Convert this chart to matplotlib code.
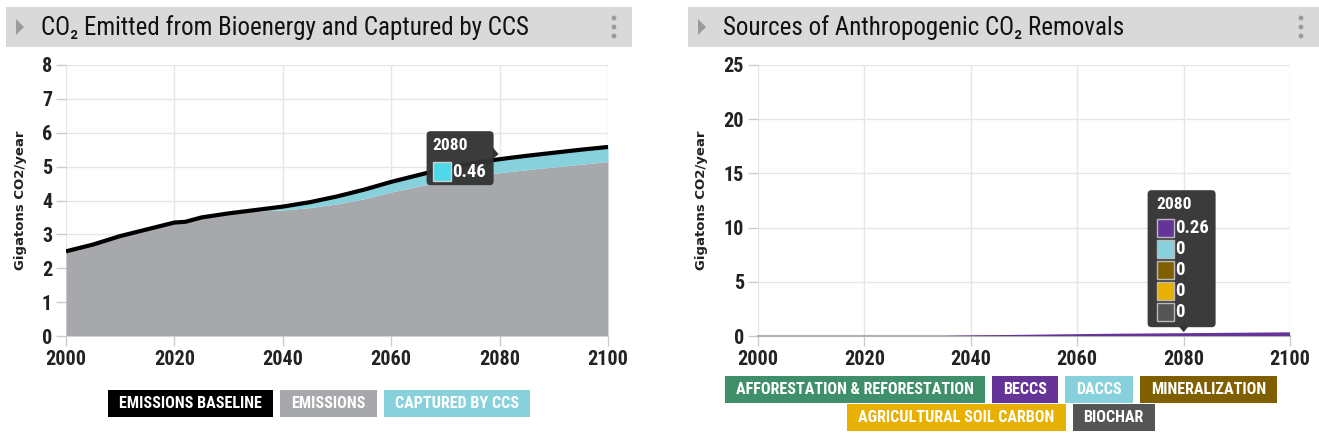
import matplotlib
matplotlib.use("Agg")
import matplotlib.pyplot as plt
from matplotlib import font_manager as fm
from matplotlib.patches import Rectangle, FancyBboxPatch, Polygon, Circle
import numpy as np

W, H = 1319, 437

# ---- data ----
years = [2000, 2005, 2010, 2015, 2020, 2022, 2025, 2030, 2035, 2040, 2045, 2050,
         2055, 2060, 2065, 2070, 2075, 2080, 2085, 2090, 2095, 2100]
baseline = [2.50, 2.70, 2.95, 3.15, 3.35, 3.37, 3.50, 3.62, 3.72, 3.82, 3.95, 4.12,
            4.32, 4.55, 4.75, 4.95, 5.10, 5.22, 5.32, 5.41, 5.50, 5.58]
emissions = [2.50, 2.70, 2.95, 3.15, 3.35, 3.37, 3.50, 3.62, 3.69, 3.72, 3.79, 3.90,
             4.05, 4.25, 4.42, 4.58, 4.71, 4.82, 4.91, 4.99, 5.07, 5.15]
captured_ccs = [0, 0, 0, 0, 0, 0, 0, 0, 0.03, 0.10, 0.16, 0.22,
                0.27, 0.31, 0.34, 0.38, 0.41, 0.46, 0.47, 0.48, 0.49, 0.50]

afforestation = [0] * len(years)
beccs = [0, 0, 0, 0, 0, 0, 0, 0, 0.0, 0.05, 0.08, 0.11,
         0.14, 0.17, 0.20, 0.22, 0.24, 0.26, 0.28, 0.30, 0.32, 0.34]
daccs = [0] * len(years)
mineralization = [0] * len(years)
soil_carbon = [0] * len(years)
biochar = [0] * len(years)

left_legend = ["EMISSIONS BASELINE", "EMISSIONS", "CAPTURED BY CCS"]
right_legend_row1 = ["AFFORESTATION & REFORESTATION", "BECCS", "DACCS", "MINERALIZATION"]
right_legend_row2 = ["AGRICULTURAL SOIL CARBON", "BIOCHAR"]

C_GRAY = "#a7a8ab"
C_CCS = "#86d1dc"
C_GREEN = "#3f8f6a"
C_PURPLE = "#663399"
C_BROWN = "#7f5f00"
C_GOLD = "#e8b000"
C_BIOCHAR = "#555555"


def pick_font(cands):
    for c in cands:
        try:
            fm.findfont(fm.FontProperties(family=c), fallback_to_default=False)
            return c
        except ValueError:
            continue
    return "DejaVu Sans"


COND = pick_font(["Roboto Condensed", "Liberation Sans Narrow", "Roboto"])
FAM = [COND, "DejaVu Sans"]

fig = plt.figure(figsize=(W / 100, H / 100), dpi=100)
fig.patch.set_facecolor("white")


def style_axes(ax, ymax, ystep):
    ax.set_xlim(2000, 2100)
    ax.set_ylim(0, ymax)
    ax.set_xticks(range(2000, 2101, 20))
    ax.set_yticks(np.arange(0, ymax + 0.1, ystep))
    ax.grid(True, color="#e6e6e6", lw=1)
    ax.set_axisbelow(True)
    for s in ax.spines.values():
        s.set_visible(False)
    ax.tick_params(color="#cccccc", length=7, width=1, pad=3, labelcolor="#222222")
    for lbl in ax.get_xticklabels() + ax.get_yticklabels():
        lbl.set_fontfamily(FAM)
        lbl.set_fontweight("bold")
        lbl.set_fontsize(14.5)
    ax.set_ylabel("Gigatons CO2/year", fontsize=9.5, fontweight="bold",
                  color="#222222", labelpad=11)


# left chart
ax1 = fig.add_axes([66 / W, 1 - 336 / H, 542 / W, 271 / H])
style_axes(ax1, 8, 1)
ax1.fill_between(years, 0, emissions, color=C_GRAY, lw=0, zorder=2)
ax1.fill_between(years, emissions, np.add(emissions, captured_ccs), color=C_CCS, lw=0, zorder=2)
ax1.plot(years, baseline, color="black", lw=3, zorder=3, solid_capstyle="butt")

# right chart
ax2 = fig.add_axes([758 / W, 1 - 336 / H, 532 / W, 271 / H])
style_axes(ax2, 25, 5)
ax2.spines["bottom"].set_visible(True)
ax2.spines["bottom"].set_color("#b0b0b0")
ax2.spines["bottom"].set_linewidth(1.5)
ax2.stackplot(years, afforestation, beccs, daccs, mineralization, soil_carbon, biochar,
              colors=[C_GREEN, C_PURPLE, C_CCS, C_BROWN, C_GOLD, C_BIOCHAR], lw=0, zorder=3)

# overlay in image pixel coordinates (y down)
ov = fig.add_axes([0, 0, 1, 1], zorder=10)
ov.set_xlim(0, W)
ov.set_ylim(H, 0)
ov.axis("off")
ov.patch.set_visible(False)

renderer = fig.canvas.get_renderer()


def header(x0, x1, title):
    ov.add_patch(Rectangle((x0, 7), x1 - x0, 40, color="#d9d9d9", lw=0))
    ov.add_patch(Polygon([(x0 + 10, 19), (x0 + 18, 27), (x0 + 10, 35)], color="#9a9a9a", lw=0))
    for yy in (18, 27, 36):
        ov.add_patch(Circle((x1 - 18, yy), 2.4, color="#9a9a9a", lw=0))
    ov.text(x0 + 35, 28, title, fontsize=18, family=FAM, color="#111111",
            va="center", ha="left")


header(6, 632, "CO\u2082 Emitted from Bioenergy and Captured by CCS")
header(688, 1319, "Sources of Anthropogenic CO\u2082 Removals")


def legend_row(labels, colors, cx, ytop, h=27, pad=11, gap=7, size=11.6):
    texts = []
    widths = []
    for lab in labels:
        t = ov.text(0, ytop + h / 2 + 0.5, lab, fontsize=size, family=FAM, fontweight="bold",
                    color="white", ha="center", va="center", zorder=5)
        bb = t.get_window_extent(renderer)
        texts.append(t)
        widths.append(bb.width + 2 * pad)
    total = sum(widths) + gap * (len(widths) - 1)
    x = cx - total / 2
    for t, w, c in zip(texts, widths, colors):
        ov.add_patch(Rectangle((x, ytop), w, h, color=c, lw=0, zorder=4))
        t.set_x(x + w / 2)
        x += w + gap


legend_row(left_legend, ["black", C_GRAY, C_CCS], 319, 390)
legend_row(right_legend_row1, [C_GREEN, C_PURPLE, C_CCS, C_BROWN], 1001, 376)
legend_row(right_legend_row2, [C_GOLD, C_BIOCHAR], 1001, 404)


def to_img(ax, x, y):
    d = ax.transData.transform((x, y))
    return ov.transData.inverted().transform(d)


TIP = "#333333"

# left tooltip
idx = years.index(2080)
axp, ayp = to_img(ax1, 2080, baseline[idx])
bl, br, bt, bb_ = axp - 73, axp - 6, ayp - 28, ayp + 26
ov.add_patch(FancyBboxPatch((bl, bt), br - bl, bb_ - bt,
                            boxstyle="round,pad=0,rounding_size=4", color=TIP, lw=0, alpha=0.96))
ov.add_patch(Polygon([(br - 1, ayp - 12), (br + 5, ayp - 5), (br - 1, ayp)], color=TIP, lw=0))
ov.text(bl + 6, bt + 14, "2080", fontsize=12.5, family=FAM, fontweight="bold", color="white",
        va="center", ha="left")
ov.add_patch(Rectangle((bl + 6, bt + 31), 18, 19, facecolor="#4dd9ea", edgecolor="#d0d0d0", lw=1))
ov.text(bl + 26, bt + 40.5, f"{captured_ccs[idx]:.2f}", fontsize=13.5, family=FAM,
        fontweight="bold", color="white", va="center", ha="left")

# right tooltip
axp, ayp = to_img(ax2, 2080, beccs[idx])
bl, br, bt, bb_ = axp - 36, axp + 32, ayp - 143, ayp - 6
ov.add_patch(FancyBboxPatch((bl, bt), br - bl, bb_ - bt,
                            boxstyle="round,pad=0,rounding_size=4", color=TIP, lw=0, alpha=0.96))
ov.add_patch(Polygon([(axp - 5, bb_ - 1), (axp, bb_ + 5), (axp + 5, bb_ - 1)], color=TIP, lw=0))
ov.text(bl + 9, bt + 14, "2080", fontsize=12.5, family=FAM, fontweight="bold", color="white",
        va="center", ha="left")
tip_vals = [beccs[idx], daccs[idx], mineralization[idx], soil_carbon[idx], biochar[idx]]
tip_cols = [C_PURPLE, C_CCS, C_BROWN, C_GOLD, C_BIOCHAR]
for i, (v, c) in enumerate(zip(tip_vals, tip_cols)):
    yc = bt + 38 + i * 21
    ov.add_patch(Rectangle((bl + 9, yc - 9), 17, 18, facecolor=c, edgecolor="#bbbbbb", lw=1))
    txt = f"{v:.2f}" if v else "0"
    ov.text(bl + 28, yc, txt, fontsize=13.5, family=FAM, fontweight="bold", color="white",
            va="center", ha="left")

fig.savefig("out.png", dpi=100)
